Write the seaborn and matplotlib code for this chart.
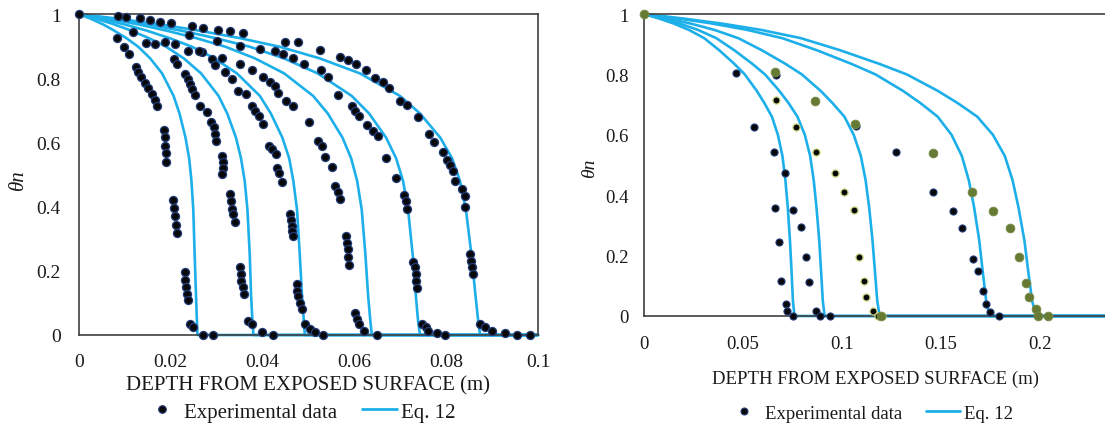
import numpy as np
import pandas as pd
import matplotlib
matplotlib.use("Agg")
import matplotlib.pyplot as plt
import seaborn as sns
from matplotlib.lines import Line2D

# ---------------- data : left panel ----------------
left_xticks = [0, 0.02, 0.04, 0.06, 0.08, 0.1]
left_xticklabels = ["0", "0.02", "0.04", "0.06", "0.08", "0.1"]
yticks = [0, 0.2, 0.4, 0.6, 0.8, 1.0]
yticklabels = ["0", "0.2", "0.4", "0.6", "0.8", "1"]

# Eq. 12 curves (theta levels shared, x read per curve)
left_eq_theta = [1, 0.985, 0.968, 0.948, 0.925, 0.898, 0.862, 0.815, 0.745, 0.69,
                 0.615, 0.55, 0.48, 0.39, 0.25, 0.12, 0.04, 0, 0]
left_eq1_x = [0, 0.0026, 0.0052, 0.0077, 0.0103, 0.0129, 0.0155, 0.0181, 0.0206, 0.0219,
              0.0232, 0.0240, 0.0245, 0.0249, 0.0252, 0.0255, 0.0257, 0.0258, 0.1]
left_eq2_x = [0, 0.0038, 0.0076, 0.0114, 0.0152, 0.0190, 0.0228, 0.0266, 0.0304, 0.0323,
              0.0342, 0.0353, 0.0361, 0.0367, 0.0372, 0.0375, 0.0378, 0.0380, 0.1]
left_eq3_x = [0, 0.0049, 0.0098, 0.0148, 0.0197, 0.0246, 0.0295, 0.0344, 0.0394, 0.0418,
              0.0443, 0.0458, 0.0467, 0.0475, 0.0481, 0.0486, 0.0490, 0.0492, 0.1]
left_eq4_x = [0, 0.0064, 0.0128, 0.0191, 0.0255, 0.0319, 0.0383, 0.0447, 0.0510, 0.0542,
              0.0574, 0.0593, 0.0606, 0.0616, 0.0624, 0.0630, 0.0635, 0.0638, 0.1]
left_eq5_x = [0, 0.0074, 0.0149, 0.0223, 0.0297, 0.0372, 0.0446, 0.0520, 0.0594, 0.0632,
              0.0669, 0.0691, 0.0706, 0.0717, 0.0727, 0.0734, 0.0739, 0.0743, 0.1]
left_eq6_x = [0, 0.0087, 0.0175, 0.0262, 0.0350, 0.0437, 0.0524, 0.0612, 0.0699, 0.0743,
              0.0787, 0.0813, 0.0830, 0.0843, 0.0855, 0.0864, 0.0870, 0.0874, 0.1]

# experimental data, six series
expA_x = [0, 0.0082, 0.0099, 0.0108, 0.0124, 0.0128, 0.0135, 0.0144, 0.0150, 0.0158, 0.0166,
          0.0169, 0.0186, 0.0187, 0.0187, 0.0190, 0.0190, 0.0204, 0.0207, 0.0209, 0.0211,
          0.0213, 0.0230, 0.0231, 0.0233, 0.0235, 0.0237, 0.0242, 0.0249, 0.0271, 0.0293]
expA_t = [1.0, 0.924, 0.898, 0.875, 0.834, 0.818, 0.803, 0.785, 0.768, 0.751, 0.733,
          0.714, 0.640, 0.616, 0.590, 0.567, 0.540, 0.421, 0.396, 0.370, 0.344,
          0.318, 0.195, 0.172, 0.148, 0.128, 0.109, 0.034, 0.024, 0.0, 0.0]
expB_x = [0.0147, 0.0166, 0.0206, 0.0213, 0.0232, 0.0237, 0.0242, 0.0247,
          0.0253, 0.0264, 0.0278, 0.0288, 0.0295, 0.0296, 0.0298, 0.0311, 0.0313, 0.0313,
          0.0312, 0.0329, 0.0331, 0.0333, 0.0336, 0.0340, 0.0351, 0.0353, 0.0354, 0.0358,
          0.0360, 0.0369, 0.0376, 0.0398, 0.0423]
expB_t = [0.909, 0.907, 0.860, 0.844, 0.813, 0.798, 0.782, 0.766,
          0.748, 0.714, 0.696, 0.663, 0.647, 0.626, 0.605, 0.559, 0.538, 0.519,
          0.502, 0.439, 0.418, 0.394, 0.377, 0.351, 0.211, 0.190, 0.169, 0.148,
          0.128, 0.045, 0.034, 0.010, 0.0]
expC_x = [0.0187, 0.0238, 0.0267, 0.0289, 0.0296, 0.0318, 0.0333, 0.0347,
          0.0363, 0.0376, 0.0383, 0.0392, 0.0400, 0.0413, 0.0421, 0.0429, 0.0431, 0.0436,
          0.0443, 0.0460, 0.0462, 0.0463, 0.0465, 0.0467, 0.0474, 0.0476, 0.0478, 0.0482,
          0.0485, 0.0492, 0.0503, 0.0514, 0.0532]
expC_t = [0.912, 0.886, 0.881, 0.860, 0.841, 0.818, 0.798, 0.761,
          0.751, 0.714, 0.699, 0.683, 0.657, 0.590, 0.578, 0.564, 0.519, 0.505,
          0.478, 0.377, 0.359, 0.341, 0.325, 0.309, 0.159, 0.138, 0.121, 0.100,
          0.081, 0.034, 0.019, 0.008, 0.0]
expD_x = [0.0209, 0.0262, 0.0311, 0.0351, 0.0376, 0.0401, 0.0416, 0.0426,
          0.0434, 0.0452, 0.0467, 0.0501, 0.0521, 0.0529, 0.0536, 0.0551, 0.0558, 0.0565,
          0.0569, 0.0582, 0.0583, 0.0585, 0.0585, 0.0588, 0.0601, 0.0605, 0.0609, 0.0620,
          0.0649]
expD_t = [0.907, 0.885, 0.862, 0.845, 0.825, 0.805, 0.787, 0.775,
          0.754, 0.730, 0.712, 0.663, 0.605, 0.588, 0.553, 0.522, 0.465, 0.447,
          0.424, 0.309, 0.288, 0.268, 0.242, 0.218, 0.069, 0.050, 0.034, 0.014,
          0.0]
expE_x = [0.0118, 0.0240, 0.0300, 0.0350, 0.0395, 0.0427, 0.0445, 0.0466, 0.0490,
          0.0527, 0.0543, 0.0565, 0.0594, 0.0601, 0.0611, 0.0627, 0.0641, 0.0652, 0.0669,
          0.0691, 0.0707, 0.0712, 0.0715, 0.0728, 0.0732, 0.0734, 0.0734, 0.0736, 0.0747,
          0.0756, 0.0761, 0.0779, 0.0797]
expE_t = [0.943, 0.935, 0.915, 0.900, 0.890, 0.886, 0.875, 0.862, 0.845,
          0.827, 0.803, 0.748, 0.714, 0.699, 0.683, 0.654, 0.637, 0.619, 0.550,
          0.488, 0.436, 0.418, 0.394, 0.226, 0.211, 0.190, 0.169, 0.145, 0.034,
          0.024, 0.013, 0.005, 0.0]
expF_x = [0.0086, 0.0102, 0.0133, 0.0155, 0.0177, 0.0200, 0.0246, 0.0271, 0.0302, 0.0329,
          0.0358, 0.0449, 0.0478, 0.0524, 0.0569, 0.0585, 0.0603, 0.0625, 0.0645, 0.0663,
          0.0676, 0.0699, 0.0714, 0.0739, 0.0763, 0.0773, 0.0792, 0.0801, 0.0808, 0.0815,
          0.0819, 0.0834, 0.0841, 0.0841, 0.0852, 0.0853, 0.0856, 0.0859, 0.0874, 0.0885,
          0.0899, 0.0928, 0.0954, 0.0983]
expF_t = [0.993, 0.990, 0.987, 0.981, 0.976, 0.972, 0.964, 0.956, 0.951, 0.948,
          0.941, 0.912, 0.912, 0.889, 0.865, 0.858, 0.844, 0.826, 0.801, 0.789,
          0.768, 0.730, 0.717, 0.678, 0.626, 0.600, 0.569, 0.546, 0.530, 0.512,
          0.481, 0.455, 0.434, 0.398, 0.252, 0.232, 0.211, 0.190, 0.034, 0.024,
          0.013, 0.005, 0.0, 0.0]

# ---------------- data : right panel ----------------
right_xticks = [0, 0.05, 0.1, 0.15, 0.2]
right_xticklabels = ["0", "0.05", "0.1", "0.15", "0.2"]
right_eq_theta = [1, 0.985, 0.968, 0.947, 0.92, 0.88, 0.835, 0.80, 0.745, 0.705, 0.66,
                  0.60, 0.53, 0.45, 0.36, 0.25, 0.15, 0.05, 0, 0]
right_eq1_x = [0, 0.0076, 0.0152, 0.0228, 0.0304, 0.0380, 0.0456, 0.0509, 0.0570, 0.0608,
               0.0646, 0.0676, 0.0699, 0.0714, 0.0726, 0.0737, 0.0745, 0.0752, 0.0760, 0.233]
right_eq2_x = [0, 0.0091, 0.0182, 0.0274, 0.0365, 0.0456, 0.0547, 0.0611, 0.0684, 0.0730,
               0.0775, 0.0812, 0.0839, 0.0857, 0.0871, 0.0885, 0.0894, 0.0903, 0.0912, 0.233]
right_eq3_x = [0, 0.0119, 0.0238, 0.0357, 0.0476, 0.0595, 0.0714, 0.0797, 0.0893, 0.0952,
               0.1012, 0.1059, 0.1095, 0.1119, 0.1137, 0.1154, 0.1166, 0.1178, 0.1190, 0.233]
right_eq4_x = [0, 0.0175, 0.0349, 0.0524, 0.0698, 0.0873, 0.1047, 0.1169, 0.1309, 0.1396,
               0.1483, 0.1553, 0.1605, 0.1640, 0.1667, 0.1693, 0.1710, 0.1728, 0.1745, 0.233]
right_eq5_x = [0, 0.0198, 0.0396, 0.0594, 0.0792, 0.0990, 0.1188, 0.1327, 0.1485, 0.1584,
               0.1683, 0.1762, 0.1822, 0.1861, 0.1891, 0.1921, 0.1940, 0.1960, 0.1980, 0.233]

# experimental groups
rS1_x = [0.0465, 0.0556, 0.0660, 0.0683, 0.0690, 0.0717, 0.0724, 0.0754]
rS1_t = [0.805, 0.625, 0.357, 0.244, 0.117, 0.040, 0.018, 0.0]
rS2_x = [0.0657, 0.0712, 0.0754, 0.0791, 0.0818, 0.0832, 0.0869, 0.0889, 0.0939]
rS2_t = [0.544, 0.474, 0.351, 0.294, 0.194, 0.111, 0.018, 0.0, 0.0]
rS3_x = [0.0667, 0.0768, 0.0869, 0.0965, 0.1010, 0.1061, 0.1084, 0.1113, 0.1121, 0.1158,
         0.1184, 0.1200]
rS3_t = [0.716, 0.625, 0.544, 0.474, 0.412, 0.351, 0.194, 0.117, 0.062, 0.018, 0.0, 0.0]
rS4_x = [0.0667, 0.1069, 0.1273, 0.1458, 0.1562, 0.1604, 0.1660, 0.1689, 0.1710, 0.1727,
         0.1748, 0.1795]
rS4_t = [0.797, 0.628, 0.544, 0.410, 0.349, 0.291, 0.189, 0.150, 0.084, 0.040, 0.012, 0.0]
rS5_x = [0, 0.0662, 0.0864, 0.1066, 0.1195, 0.1458, 0.1655, 0.1761, 0.1849, 0.1896, 0.1929,
         0.1946, 0.1980, 0.1992, 0.2042]
rS5_t = [1.0, 0.809, 0.713, 0.636, 0.0, 0.540, 0.412, 0.349, 0.291, 0.194, 0.109,
         0.062, 0.023, 0.0, 0.0]

legend_labels = ["Experimental data", "Eq. 12"]
xlabel_text = "DEPTH FROM EXPOSED SURFACE (m)"
ylabel_text = "θn"

# ---------------- styling ----------------
sns.set_theme(style="white")
plt.rcParams["font.family"] = ["Liberation Serif", "DejaVu Serif"]

BLUE = "#1CAFE9"
NAVY = "#223C78"
YEL = "#C8D27A"
GREEN = "#667A34"
SPINE = "#404040"
TXT = "#1a1a1a"

fig = plt.figure(figsize=(11.05, 4.35), dpi=100)
W, H = 1105, 435
ax1 = fig.add_axes([79 / W, (H - 336) / H, 459 / W, 321 / H])
ax2 = fig.add_axes([644 / W, (H - 317) / H, 461 / W, 302 / H])


def curves_df(theta, xs):
    rows = []
    for i, xv in enumerate(xs):
        for a, b in zip(xv, theta):
            rows.append({"x": a, "theta": b, "curve": i})
    return pd.DataFrame(rows)


# left panel
dfl = curves_df(left_eq_theta, [left_eq1_x, left_eq2_x, left_eq3_x,
                                left_eq4_x, left_eq5_x, left_eq6_x])
sns.lineplot(data=dfl, x="x", y="theta", units="curve", estimator=None, sort=False,
             color=BLUE, lw=1.9, ax=ax1, clip_on=False, zorder=2)
for xs, ts in [(expA_x, expA_t), (expB_x, expB_t), (expC_x, expC_t),
               (expD_x, expD_t), (expE_x, expE_t), (expF_x, expF_t)]:
    sns.scatterplot(x=xs, y=ts, ax=ax1, color="#080808", edgecolor=NAVY, s=34,
                    linewidth=0.9, clip_on=False, zorder=3)

ax1.set_xlim(0, 0.1)
ax1.set_ylim(0, 1)
ax1.set_xticks(left_xticks)
ax1.set_xticklabels(left_xticklabels)
ax1.set_yticks(yticks)
ax1.set_yticklabels(yticklabels)
ax1.tick_params(length=0, pad=13, labelsize=14, labelcolor=TXT)
for s in ax1.spines.values():
    s.set_color(SPINE)
    s.set_linewidth(1.2)
ax1.set_xlabel("")
ax1.set_ylabel("")

# right panel
dfr = curves_df(right_eq_theta, [right_eq1_x, right_eq2_x, right_eq3_x,
                                 right_eq4_x, right_eq5_x])
sns.lineplot(data=dfr, x="x", y="theta", units="curve", estimator=None, sort=False,
             color=BLUE, lw=1.9, ax=ax2, clip_on=False, zorder=2)
sns.scatterplot(x=rS1_x, y=rS1_t, ax=ax2, color="#080808", edgecolor=NAVY, s=26,
                linewidth=0.8, clip_on=False, zorder=3)
sns.scatterplot(x=rS2_x, y=rS2_t, ax=ax2, color="#080808", edgecolor=NAVY, s=26,
                linewidth=0.8, clip_on=False, zorder=3)
sns.scatterplot(x=rS4_x, y=rS4_t, ax=ax2, color="#080808", edgecolor=NAVY, s=26,
                linewidth=0.8, clip_on=False, zorder=3)
sns.scatterplot(x=rS3_x, y=rS3_t, ax=ax2, color="#080808", edgecolor=YEL, s=26,
                linewidth=0.9, clip_on=False, zorder=3)
sns.scatterplot(x=rS5_x, y=rS5_t, ax=ax2, color=GREEN, edgecolor="#7A8C48", s=40,
                linewidth=0.6, clip_on=False, zorder=4)

ax2.set_xlim(0, 0.2328)
ax2.set_ylim(0, 1)
ax2.set_xticks(right_xticks)
ax2.set_xticklabels(right_xticklabels)
ax2.set_yticks(yticks)
ax2.set_yticklabels(yticklabels)
ax2.tick_params(axis="y", length=0, pad=11, labelsize=13.5, labelcolor=TXT)
ax2.tick_params(axis="x", length=0, pad=14, labelsize=13.5, labelcolor=TXT)
ax2.spines["right"].set_visible(False)
for k in ["left", "bottom", "top"]:
    ax2.spines[k].set_color(SPINE)
    ax2.spines[k].set_linewidth(1.2)
ax2.set_xlabel("")
ax2.set_ylabel("")

# axis titles
fig.text(308 / W, 1 - 386 / H, xlabel_text, ha="center", va="center", fontsize=15, color=TXT)
fig.text(876 / W, 1 - 379 / H, xlabel_text, ha="center", va="center", fontsize=13.5, color=TXT)
fig.text(18 / W, 1 - 180 / H, ylabel_text, ha="center", va="center", rotation=90,
         fontsize=15, fontstyle="italic", color=TXT)
fig.text(590 / W, 1 - 168 / H, ylabel_text, ha="center", va="center", rotation=90,
         fontsize=14, fontstyle="italic", color=TXT)

# legends
def handles(ms):
    return [Line2D([], [], ls="", marker="o", markersize=ms, markerfacecolor="#080808",
                   markeredgecolor=NAVY, markeredgewidth=0.8),
            Line2D([], [], color=BLUE, lw=2.0)]

leg1 = fig.legend(handles(5.5), legend_labels, loc="center", bbox_to_anchor=(300 / W, 1 - 413 / H),
                  ncol=2, frameon=False, fontsize=15, handlelength=1.7, handletextpad=0.2,
                  columnspacing=1.2, borderpad=0)
leg2 = fig.legend(handles(5.0), legend_labels, loc="center", bbox_to_anchor=(870 / W, 1 - 414 / H),
                  ncol=2, frameon=False, fontsize=13.5, handlelength=1.8, handletextpad=0.2,
                  columnspacing=1.3, borderpad=0)
for lg in (leg1, leg2):
    for t in lg.get_texts():
        t.set_color(TXT)

fig.savefig("out.png", dpi=100)
